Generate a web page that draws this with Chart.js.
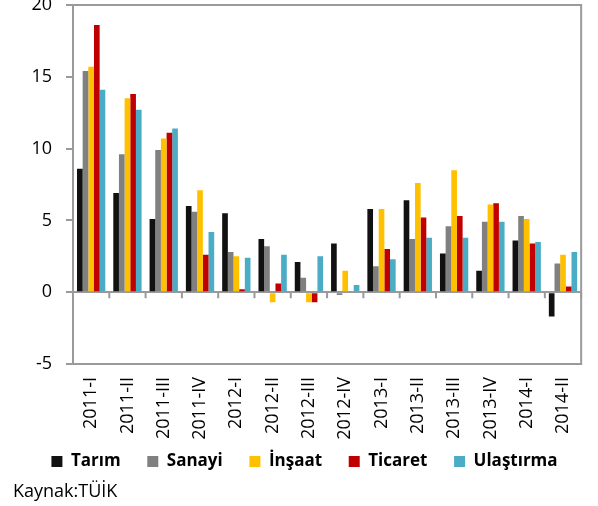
<!DOCTYPE html>
<html>
<head>
<meta charset="utf-8">
<script src="https://cdn.jsdelivr.net/npm/chart.js@4.4.1/dist/chart.umd.min.js"></script>
<style>
  body { margin: 0; background: #fff; }
  #kutu { position: relative; width: 598px; height: 506px; }
  canvas { display: block; }
  #kaynak { position: absolute; left: 13px; top: 478px; font: 18px "Open Sans", sans-serif; color: #000; }
</style>
</head>
<body>
<div id="kutu">
  <canvas id="grafik" width="598" height="506"></canvas>
  <div id="kaynak">Kaynak:TÜİK</div>
</div>
<script>
// Dönemler
const donemler = ['2011-I', '2011-II', '2011-III', '2011-IV', '2012-I', '2012-II', '2012-III',
  '2012-IV', '2013-I', '2013-II', '2013-III', '2013-IV', '2014-I', '2014-II'];

// Sektörlere göre büyüme (%)
const tarim     = [8.6, 6.9, 5.1, 6.0, 5.5, 3.7, 2.1, 3.4, 5.8, 6.4, 2.7, 1.5, 3.6, -1.7];
const sanayi    = [15.4, 9.6, 9.9, 5.6, 2.8, 3.2, 1.0, -0.2, 1.8, 3.7, 4.6, 4.9, 5.3, 2.0];
const insaat    = [15.7, 13.5, 10.7, 7.1, 2.5, -0.7, -0.7, 1.5, 5.8, 7.6, 8.5, 6.1, 5.1, 2.6];
const ticaret   = [18.6, 13.8, 11.1, 2.6, 0.2, 0.6, -0.7, 0.0, 3.0, 5.2, 5.3, 6.2, 3.4, 0.4];
const ulastirma = [14.1, 12.7, 11.4, 4.2, 2.4, 2.6, 2.5, 0.5, 2.3, 3.8, 3.8, 4.9, 3.5, 2.8];

const eksenRengi = '#9a9a9a';
const yaziTipi = '"Open Sans", sans-serif';

// Çerçeve ve sıfır çizgisindeki kategori çentikleri
const cerceve = {
  id: 'cerceve',
  afterDraw(chart) {
    const { ctx, chartArea: a, scales } = chart;
    const x = scales.x, y = scales.y;
    const sifir = y.getPixelForValue(0);
    const adim = x.getPixelForValue(1) - x.getPixelForValue(0);
    ctx.save();
    ctx.strokeStyle = eksenRengi;
    ctx.lineWidth = 2;
    ctx.strokeRect(a.left, a.top, a.right - a.left, a.bottom - a.top);
    ctx.beginPath();
    for (let i = 0; i <= donemler.length; i++) {
      const px = x.getPixelForValue(i) - adim / 2;
      ctx.moveTo(px, sifir);
      ctx.lineTo(px, sifir + 6);
    }
    ctx.stroke();
    ctx.restore();
  }
};

const seri = (label, data, renk) => ({
  label, data, backgroundColor: renk, borderWidth: 0,
  categoryPercentage: 0.78, barPercentage: 1
});

// lejantta öğeler arası boşluk (son öğe hariç)
const lejantEtiketleri = (chart) => {
  const liste = Chart.defaults.plugins.legend.labels.generateLabels(chart);
  liste.forEach((e, i) => { if (i < liste.length - 1) e.text += '    '; });
  return liste;
};

new Chart(document.getElementById('grafik'), {
  type: 'bar',
  data: {
    labels: donemler,
    datasets: [
      seri('Tarım', tarim, '#111111'),
      seri('Sanayi', sanayi, '#808080'),
      seri('İnşaat', insaat, '#FFC000'),
      seri('Ticaret', ticaret, '#C00000'),
      seri('Ulaştırma', ulastirma, '#4BACC6')
    ]
  },
  options: {
    responsive: false,
    animation: false,
    layout: { padding: { left: 22, right: 11, top: 5, bottom: 26 } },
    scales: {
      x: {
        grid: { display: false, drawTicks: false },
        border: { display: false },
        ticks: {
          minRotation: 90, maxRotation: 90, padding: 13,
          color: '#000', font: { family: yaziTipi, size: 18 }
        },
        afterFit: (s) => { s.height = 80; }
      },
      y: {
        min: -5, max: 20,
        ticks: { stepSize: 5, padding: 14, color: '#000', font: { family: yaziTipi, size: 18 } },
        grid: {
          color: (c) => c.tick && c.tick.value === 0 ? eksenRengi : 'transparent',
          lineWidth: 2, tickColor: eksenRengi, tickLength: 7
        },
        border: { color: eksenRengi, width: 2 },
        afterFit: (s) => { s.width = 51; s.paddingTop = 0; s.paddingBottom = 0; }
      }
    },
    plugins: {
      legend: {
        position: 'bottom',
        labels: {
          boxWidth: 11, boxHeight: 11, padding: 9, color: '#000',
          font: { family: yaziTipi, size: 17, weight: 'bold' },
          generateLabels: lejantEtiketleri
        }
      },
      tooltip: { enabled: false }
    }
  },
  plugins: [cerceve]
});
</script>
</body>
</html>
